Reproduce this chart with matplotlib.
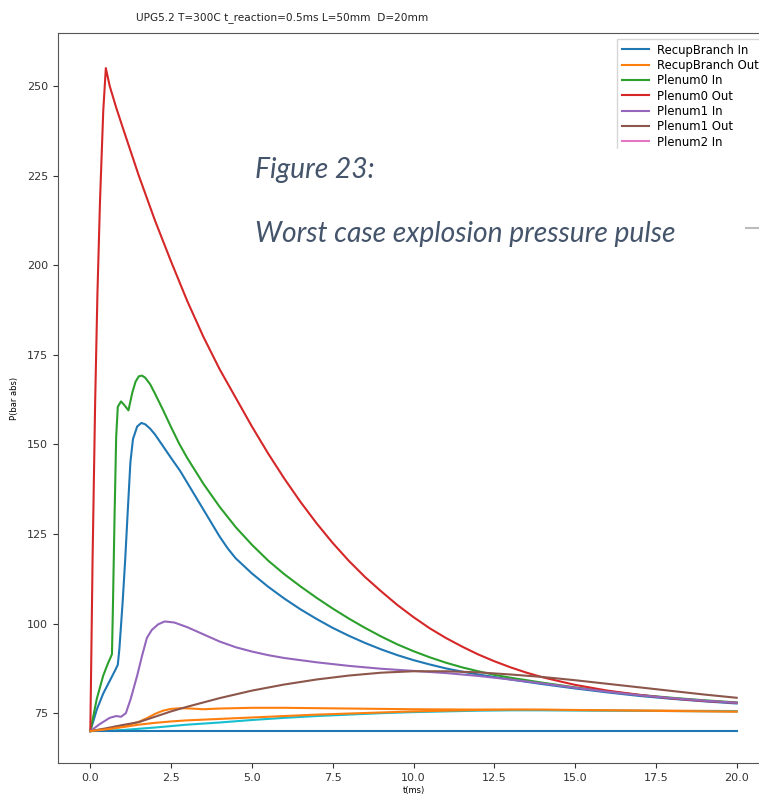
import numpy as np
import matplotlib
matplotlib.use("Agg")
import matplotlib.pyplot as plt
from matplotlib.lines import Line2D
from matplotlib.patches import Rectangle

# Pressure traces, P in bar abs against t in ms
t_recup_in = [0, 0.2, 0.4, 0.6, 0.77, 0.85, 0.9, 1.0, 1.08, 1.15, 1.24, 1.32, 1.45, 1.58, 1.7,
              1.85, 2.0, 2.25, 2.5, 2.78, 3.0, 3.5, 4.0, 4.25, 4.5, 5.0, 5.5, 6.0, 6.5, 7.0, 7.5,
              8.0, 8.5, 9.0, 9.5, 10.0, 10.5, 11.0, 11.5, 12.0, 13.0, 14.0, 15.0, 16.0, 17.0,
              18.0, 19.0, 20.0]
p_recup_in = [70, 76, 80.5, 84, 87, 88.5, 93, 106, 118, 130, 145, 151.5, 155, 156, 155.6,
              154.4, 152.8, 149.5, 146.2, 142.6, 139.3, 131.8, 124.3, 121.0, 118.2, 114.0, 110.3,
              107.0, 104.0, 101.3, 98.8, 96.6, 94.6, 92.8, 91.2, 89.8, 88.6, 87.5, 86.6, 85.8,
              84.4, 83.1, 81.9, 80.8, 79.8, 79.0, 78.3, 77.7]

t_recup_out = [0, 0.5, 1.0, 1.5, 1.75, 2.0, 2.25, 2.5, 2.8, 3.1, 3.5, 4.0, 5.0, 6.0, 8.0, 10.0,
               12.0, 14.0, 16.0, 18.0, 20.0]
p_recup_out = [70, 70.6, 71.3, 72.6, 73.6, 74.8, 75.7, 76.2, 76.4, 76.3, 76.1, 76.3, 76.5, 76.5,
               76.3, 76.1, 76.0, 75.9, 75.8, 75.7, 75.6]

t_p0_in = [0, 0.2, 0.4, 0.55, 0.62, 0.67, 0.7, 0.75, 0.8, 0.85, 0.95, 1.05, 1.18, 1.3, 1.4, 1.5,
           1.6, 1.7, 1.85, 2.0, 2.25, 2.5, 2.75, 3.0, 3.5, 4.0, 4.5, 5.0, 5.5, 6.0, 6.5, 7.0,
           7.5, 8.0, 8.5, 9.0, 9.5, 10.0, 10.5, 11.0, 11.5, 12.0, 12.5, 13.0, 14.0, 15.0, 16.0,
           17.0, 18.0, 19.0, 20.0]
p_p0_in = [70, 79, 85.5, 89, 90.4, 91.5, 105, 130, 152, 160.5, 162, 161, 159.5, 164.5, 167.5,
           169, 169.2, 168.6, 166.8, 164.2, 159.6, 154.8, 150.2, 146.2, 139.0, 132.6, 126.9,
           122.0, 117.6, 113.8, 110.4, 107.2, 104.2, 101.4, 98.8, 96.4, 94.2, 92.3, 90.6, 89.1,
           87.8, 86.7, 85.7, 84.9, 83.5, 82.2, 81.1, 80.1, 79.3, 78.6, 78.0]

t_p0_out = [0, 0.07, 0.15, 0.22, 0.3, 0.4, 0.48, 0.6, 0.8, 1.0, 1.5, 2.0, 2.5, 3.0, 3.5, 4.0,
            4.5, 5.0, 5.5, 6.0, 6.5, 7.0, 7.5, 8.0, 8.5, 9.0, 9.5, 10.0, 10.5, 11.0, 11.5, 12.0,
            12.5, 13.0, 13.5, 14.0, 15.0, 16.0, 17.0, 18.0, 19.0, 20.0]
p_p0_out = [70, 118, 162, 192, 218, 243, 255, 250, 244, 238.5, 225, 212.5, 201, 190, 180, 171,
            163, 155, 147.5, 140.5, 134, 128, 122.5, 117.5, 113, 109, 105.2, 101.8, 98.7, 96,
            93.6, 91.4, 89.5, 87.8, 86.3, 85.0, 82.9, 81.3, 80.1, 79.1, 78.4, 77.9]

t_p1_in = [0, 0.3, 0.6, 0.8, 0.95, 1.1, 1.25, 1.45, 1.6, 1.75, 1.9, 2.1, 2.3, 2.6, 3.0, 3.5,
           4.0, 4.5, 5.0, 5.5, 6.0, 7.0, 8.0, 9.0, 10.0, 11.0, 12.0, 13.0, 14.0, 15.0, 16.0,
           17.0, 18.0, 19.0, 20.0]
p_p1_in = [70, 72, 73.7, 74.2, 74, 75, 79, 85.5, 91, 96, 98.2, 99.8, 100.6, 100.3, 99.0, 97.0,
           95.0, 93.4, 92.2, 91.2, 90.4, 89.2, 88.2, 87.4, 86.8, 86.2, 85.4, 84.4, 83.3, 82.1,
           81.0, 80.0, 79.2, 78.5, 77.9]

t_p1_out = [0, 0.5, 1.0, 1.5, 2.0, 2.5, 3.0, 4.0, 5.0, 6.0, 7.0, 8.0, 9.0, 10.0, 11.0, 12.0, 13.0,
            14.0, 15.0, 16.0, 17.0, 18.0, 19.0, 20.0]
p_p1_out = [70, 70.8, 71.7, 72.5, 74, 75.5, 76.8, 79.2, 81.3, 83, 84.4, 85.5, 86.3, 86.7, 86.7,
            86.4, 85.8, 85.1, 84.2, 83.2, 82.2, 81.2, 80.2, 79.3]

t_slow = [0, 1.0, 2.0, 3.0, 4.0, 5.0, 6.0, 7.0, 8.0, 9.0, 10.0, 11.0, 12.0, 13.0, 14.0, 16.0,
          18.0, 20.0]
p_slow_cyan = [70, 70.3, 71, 71.8, 72.4, 73.1, 73.7, 74.2, 74.6, 75.0, 75.3, 75.5, 75.7, 75.8,
               75.8, 75.7, 75.6, 75.5]

t_slow_orange = [0, 0.5, 1.0, 1.5, 2.0, 2.5, 3.0, 4.0, 5.0, 6.0, 7.0, 8.0, 9.0, 10.0, 11.0, 12.0,
                 13.0, 14.0, 15.0, 16.0, 17.0, 18.0, 19.0, 20.0]
p_slow_orange = [70, 70.5, 71.1, 71.8, 72.3, 72.7, 73.0, 73.4, 73.8, 74.2, 74.6, 74.9, 75.2, 75.5,
                 75.7, 75.9, 76.0, 76.0, 75.9, 75.8, 75.7, 75.6, 75.5, 75.4]

t_flat = [0, 20.0]
p_flat = [70, 70]

legend_names = ['RecupBranch In', 'RecupBranch Out', 'Plenum0 In', 'Plenum0 Out',
                'Plenum1 In', 'Plenum1 Out', 'Plenum2 In']

W, H = 759, 794
fig = plt.figure(figsize=(W / 100, H / 100), dpi=100)
ax = fig.add_axes([58 / W, 31 / H, 711 / W, 730 / H])

ax.plot(t_recup_in, p_recup_in, color='tab:blue')
ax.plot(t_recup_out, p_recup_out, color='tab:orange')
ax.plot(t_p0_in, p_p0_in, color='tab:green')
ax.plot(t_p0_out, p_p0_out, color='tab:red')
ax.plot(t_p1_in, p_p1_in, color='tab:purple')
ax.plot(t_p1_out, p_p1_out, color='tab:brown')
ax.plot(t_slow, p_slow_cyan, color='tab:cyan')
ax.plot(t_flat, p_flat, color='tab:blue')
ax.plot(t_slow_orange, p_slow_orange, color='tab:orange')

ax.set_xlim(-1, 21)
ax.set_ylim(61.1, 264.8)
ax.set_xticks(np.arange(0, 20.1, 2.5))
ax.set_yticks(np.arange(75, 251, 25))
ax.tick_params(labelsize=8, colors='#333333')
for s in ax.spines.values():
    s.set_color('#555555')
ax.set_xlabel('t(ms)', fontsize=6, labelpad=2)
ax.set_ylabel('P(bar abs)', fontsize=6, labelpad=6)

legend_colors = ['tab:blue', 'tab:orange', 'tab:green', 'tab:red',
                 'tab:purple', 'tab:brown', 'tab:pink']
handles = [Line2D([], [], color=c, lw=1.5) for c in legend_colors]
ax.legend(handles, legend_names, loc='upper right', fontsize=8.4, labelspacing=0.2,
          handlelength=2.3, handletextpad=0.7, fancybox=False, edgecolor='#cccccc')

fig.text(282 / W, 1 - 18 / H, 'UPG5.2 T=300C t_reaction=0.5ms L=50mm  D=20mm',
         ha='center', va='center', fontsize=7.6, color='#222222')

# caption box laid over the plot
fig.add_artist(Rectangle((600 / W, 1 - 163 / H), 159 / W, 14 / H,
                         transform=fig.transFigure, color='white', zorder=10))
fig.add_artist(Line2D([746 / W, 759 / W], [1 - 228 / H, 1 - 228 / H],
                      transform=fig.transFigure, color='#bbbbbb', lw=1.5, zorder=11))
cap_kw = dict(family='Lato', style='italic', fontsize=20.3, color='#44546a', zorder=12)
fig.text(255 / W, 1 - 178 / H, 'Figure 23:', ha='left', va='baseline', **cap_kw)
fig.text(255 / W, 1 - 242 / H, 'Worst case explosion pressure pulse', ha='left',
         va='baseline', **cap_kw)

fig.savefig('out.png', dpi=100)
